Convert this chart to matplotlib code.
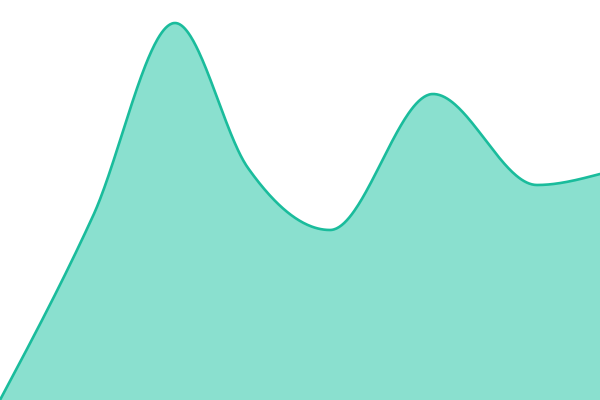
import numpy as np
import matplotlib
matplotlib.use("Agg")
import matplotlib.pyplot as plt

# data (x position, value)
x_vals = [0, 93, 175, 248, 330, 433, 537, 600]
y_vals = [0, 184, 377, 232, 170, 306, 215, 226]

def monotone_x(xs, ys, n=80):
    xs = np.asarray(xs, float); ys = np.asarray(ys, float)
    N = len(xs)
    h = np.diff(xs); s = np.diff(ys) / h
    t = np.zeros(N)
    for i in range(1, N - 1):
        s0, s1 = s[i - 1], s[i]
        p = (s0 * h[i] + s1 * h[i - 1]) / (h[i - 1] + h[i])
        t[i] = (np.sign(s0) + np.sign(s1)) * min(abs(s0), abs(s1), 0.5 * abs(p))
    t[0] = (3 * s[0] - t[1]) / 2
    t[-1] = (3 * s[-1] - t[-2]) / 2
    X, Y = [], []
    for i in range(N - 1):
        u = np.linspace(0, 1, n, endpoint=(i == N - 2))
        h00 = 2*u**3 - 3*u**2 + 1; h10 = u**3 - 2*u**2 + u
        h01 = -2*u**3 + 3*u**2; h11 = u**3 - u**2
        X.append(xs[i] + u * h[i])
        Y.append(h00*ys[i] + h10*h[i]*t[i] + h01*ys[i+1] + h11*h[i]*t[i+1])
    return np.concatenate(X), np.concatenate(Y)

xs, ys = monotone_x(x_vals, y_vals)

fig = plt.figure(figsize=(6, 4), dpi=100)
ax = fig.add_axes([0, 0, 1, 1])
ax.fill_between(xs, 0, ys, color="#8ae0cf", linewidth=0)
ax.plot(xs, ys, color="#1abc9c", linewidth=1.9, solid_capstyle="round")
ax.set_xlim(0, 600)
ax.set_ylim(0, 400)
ax.axis("off")
fig.savefig("out.png", dpi=100)
